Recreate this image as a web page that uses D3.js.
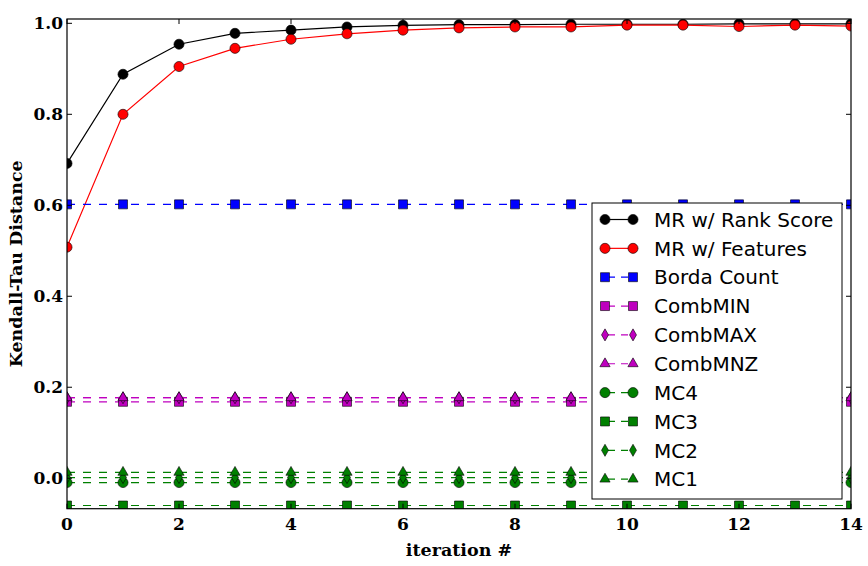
<!DOCTYPE html>
<html lang="en">
<head>
<meta charset="UTF-8">
<title>Kendall-Tau Distance per iteration</title>
<script src="https://d3js.org/d3.v7.min.js"></script>
<style>
    body { margin: 0; padding: 0; background: #fff; }
    svg { display: block; }
    .tick-label { font-family: "DejaVu Serif", serif; font-weight: bold; font-size: 17px; fill: #000; }
    .axis-title { font-family: "DejaVu Serif", serif; font-weight: bold; font-size: 17.5px; fill: #000; }
    .legend-text { font-family: "DejaVu Sans", sans-serif; font-size: 20px; fill: #000; }
</style>
</head>
<body>
<svg width="868" height="566"></svg>
<script>
// iterations on the x axis
const iterations = [0, 1, 2, 3, 4, 5, 6, 7, 8, 9, 10, 11, 12, 13, 14];

// series values
const mrRankScore = [0.692, 0.888, 0.954, 0.978, 0.985, 0.992, 0.9955, 0.997, 0.997, 0.998, 0.998, 0.998, 0.999, 0.999, 0.999];
const mrFeatures  = [0.508, 0.800, 0.905, 0.945, 0.965, 0.977, 0.985, 0.990, 0.992, 0.992, 0.996, 0.996, 0.993, 0.996, 0.994];
const bordaCount  = [0.602, 0.602, 0.602, 0.602, 0.602, 0.602, 0.602, 0.602, 0.602, 0.602, 0.602, 0.602, 0.602, 0.602, 0.602];
const combMIN     = [0.168, 0.168, 0.168, 0.168, 0.168, 0.168, 0.168, 0.168, 0.168, 0.168, 0.168, 0.168, 0.168, 0.168, 0.168];
const combMAX     = [0.177, 0.177, 0.177, 0.177, 0.177, 0.177, 0.177, 0.177, 0.177, 0.177, 0.177, 0.177, 0.177, 0.177, 0.177];
const combMNZ     = [0.177, 0.177, 0.177, 0.177, 0.177, 0.177, 0.177, 0.177, 0.177, 0.177, 0.177, 0.177, 0.177, 0.177, 0.177];
const mc4         = [-0.0095, -0.0095, -0.0095, -0.0095, -0.0095, -0.0095, -0.0095, -0.0095, -0.0095, -0.0095, -0.0095, -0.0095, -0.0095, -0.0095, -0.0095];
const mc3         = [-0.060, -0.060, -0.060, -0.060, -0.060, -0.060, -0.060, -0.060, -0.060, -0.060, -0.060, -0.060, -0.060, -0.060, -0.060];
const mc2         = [0.0015, 0.0015, 0.0015, 0.0015, 0.0015, 0.0015, 0.0015, 0.0015, 0.0015, 0.0015, 0.0015, 0.0015, 0.0015, 0.0015, 0.0015];
const mc1         = [0.013, 0.013, 0.013, 0.013, 0.013, 0.013, 0.013, 0.013, 0.013, 0.013, 0.013, 0.013, 0.013, 0.013, 0.013];

const seriesNames = ["MR w/ Rank Score", "MR w/ Features", "Borda Count", "CombMIN", "CombMAX",
                     "CombMNZ", "MC4", "MC3", "MC2", "MC1"];
const seriesValues = [mrRankScore, mrFeatures, bordaCount, combMIN, combMAX, combMNZ, mc4, mc3, mc2, mc1];

const xTicks = [0, 2, 4, 6, 8, 10, 12, 14];
const yTicks = [0.0, 0.2, 0.4, 0.6, 0.8, 1.0];

// look of each series (matplotlib classic colours)
const styles = [
    { color: "#000000", dash: null, shape: "circle" },
    { color: "#ff0000", dash: null, shape: "circle" },
    { color: "#0000ff", dash: "8,8", shape: "square" },
    { color: "#bf00bf", dash: "8,8", shape: "square" },
    { color: "#bf00bf", dash: "8,8", shape: "diamond" },
    { color: "#bf00bf", dash: "8,8", shape: "triangle" },
    { color: "#008000", dash: "8,8", shape: "circle" },
    { color: "#008000", dash: "8,8", shape: "square" },
    { color: "#008000", dash: "8,8", shape: "diamond" },
    { color: "#008000", dash: "8,8", shape: "triangle" }
];

const svg = d3.select("svg");
const margin = { top: 19, right: 17, bottom: 57.3, left: 67 };
const width = 868 - margin.left - margin.right;
const height = 566 - margin.top - margin.bottom;

const x = d3.scaleLinear().domain([0, 14]).range([0, width]);
const y = d3.scaleLinear().domain([-0.067, 1.0095]).range([height, 0]);

const g = svg.append("g").attr("transform", `translate(${margin.left},${margin.top})`);

svg.append("defs").append("clipPath").attr("id", "plot-clip")
    .append("rect").attr("width", width).attr("height", height);

function symbolFor(shape) {
    if (shape === "circle") return d3.symbol(d3.symbolCircle, 80)();
    if (shape === "square") return d3.symbol(d3.symbolSquare, 81)();
    if (shape === "diamond") return d3.symbol(d3.symbolDiamond, 42)();
    return d3.symbol(d3.symbolTriangle, 45)();
}

// lines and markers
const plot = g.append("g").attr("clip-path", "url(#plot-clip)");
const line = d3.line().x((d, i) => x(iterations[i])).y(d => y(d));

seriesValues.forEach((vals, k) => {
    const st = styles[k];
    const s = plot.append("g");
    s.append("path")
        .datum(vals)
        .attr("d", line)
        .attr("fill", "none")
        .attr("stroke", st.color)
        .attr("stroke-width", 1.2)
        .attr("stroke-dasharray", st.dash);
    s.selectAll("path.marker")
        .data(vals)
        .enter().append("path")
        .attr("class", "marker")
        .attr("d", symbolFor(st.shape))
        .attr("transform", (d, i) => `translate(${x(iterations[i])},${y(d)})`)
        .attr("fill", st.color)
        .attr("stroke", "#000")
        .attr("stroke-width", 0.6);
});

// ticks, inward on all four sides
const tickLen = 5;
xTicks.forEach(t => {
    g.append("line").attr("x1", x(t)).attr("x2", x(t)).attr("y1", height).attr("y2", height - tickLen).attr("stroke", "#000");
    g.append("line").attr("x1", x(t)).attr("x2", x(t)).attr("y1", 0).attr("y2", tickLen).attr("stroke", "#000");
    g.append("text").attr("class", "tick-label")
        .attr("x", x(t)).attr("y", height + 21)
        .attr("text-anchor", "middle")
        .text(t);
});
yTicks.forEach(t => {
    g.append("line").attr("x1", 0).attr("x2", tickLen).attr("y1", y(t)).attr("y2", y(t)).attr("stroke", "#000");
    g.append("line").attr("x1", width).attr("x2", width - tickLen).attr("y1", y(t)).attr("y2", y(t)).attr("stroke", "#000");
    g.append("text").attr("class", "tick-label")
        .attr("x", -4).attr("y", y(t))
        .attr("dy", "0.36em")
        .attr("text-anchor", "end")
        .text(t.toFixed(1));
});

// frame
g.append("rect").attr("width", width).attr("height", height)
    .attr("fill", "none").attr("stroke", "#000").attr("stroke-width", 1.2);

// axis titles
svg.append("text").attr("class", "axis-title")
    .attr("x", margin.left + width / 2).attr("y", 556)
    .attr("text-anchor", "middle")
    .text("iteration #");
svg.append("text").attr("class", "axis-title")
    .attr("transform", `translate(22,${margin.top + height / 2}) rotate(-90)`)
    .attr("text-anchor", "middle")
    .text("Kendall-Tau Distance");

// legend
const legend = svg.append("g").attr("transform", "translate(592,203)");
legend.append("rect").attr("width", 250).attr("height", 296)
    .attr("fill", "#fff").attr("stroke", "#000").attr("stroke-width", 1);

seriesNames.forEach((name, k) => {
    const st = styles[k];
    const ly = 16.5 + k * 28.85;
    const row = legend.append("g").attr("transform", `translate(0,${ly})`);
    row.append("line").attr("x1", 13).attr("x2", 41).attr("y1", 0).attr("y2", 0)
        .attr("stroke", st.color).attr("stroke-width", 1.2)
        .attr("stroke-dasharray", st.dash ? "7,6" : null)
        .attr("stroke-dashoffset", st.dash ? -3 : null);
    [13, 41].forEach(px => {
        row.append("path").attr("d", symbolFor(st.shape))
            .attr("transform", `translate(${px},0)`)
            .attr("fill", st.color).attr("stroke", "#000").attr("stroke-width", 0.6);
    });
    row.append("text").attr("class", "legend-text")
        .attr("x", 62).attr("y", 0).attr("dy", "0.36em")
        .text(name);
});
</script>
</body>
</html>
